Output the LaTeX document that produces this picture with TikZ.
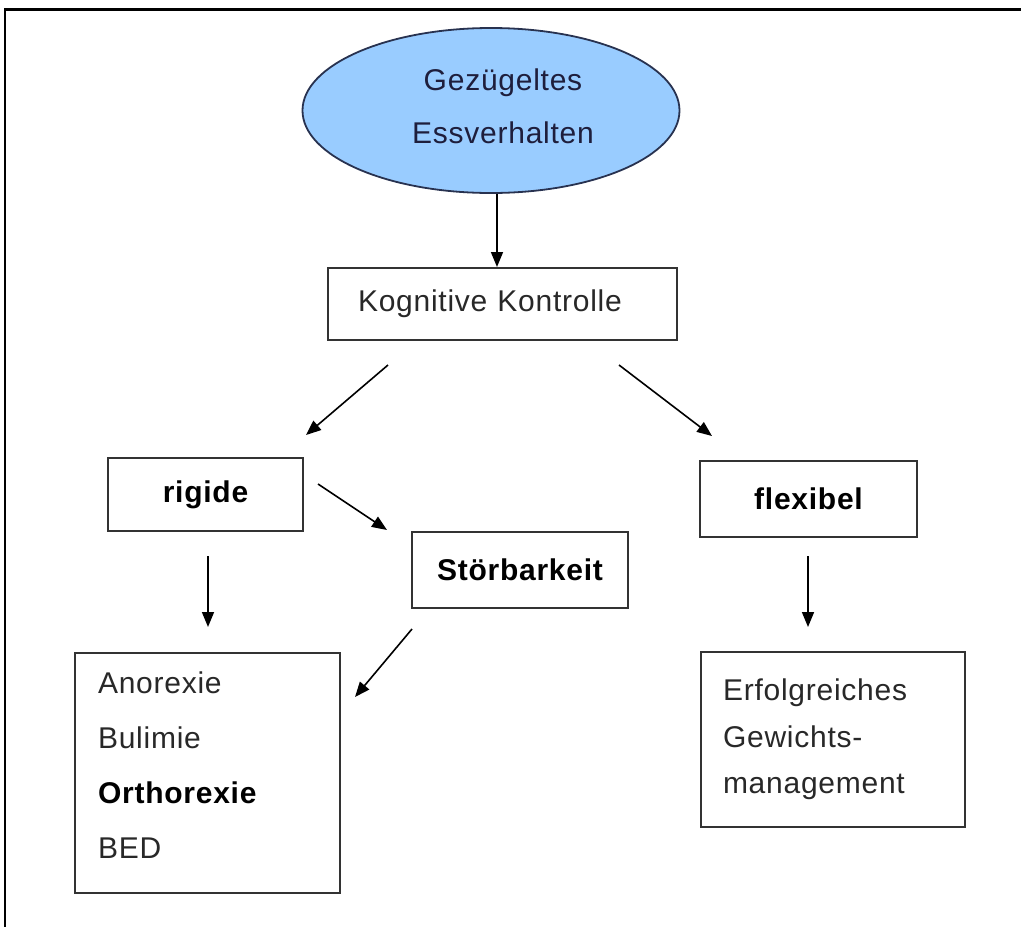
\documentclass[tikz,border=0pt]{standalone}
\usepackage{fontspec}
\setmainfont[LetterSpace=2.5]{Liberation Sans}
\usetikzlibrary{shapes.geometric,arrows.meta,calc}
\definecolor{ellfill}{RGB}{153,204,255}
\definecolor{elldraw}{RGB}{40,50,80}
\definecolor{elltext}{RGB}{30,30,60}
\definecolor{txtgray}{RGB}{40,40,40}
\begin{document}
\begin{tikzpicture}[x=1pt,y=-1pt,
  font=\fontsize{30}{46}\selectfont,
  box/.style={draw=black!80, line width=2pt, rectangle, inner sep=0pt, text=txtgray},
  boldbox/.style={box, font=\fontsize{30}{46}\selectfont\bfseries, text=black},
  arr/.style={line width=1.6pt, black, -{Triangle[length=15pt,width=12pt]}}]
\useasboundingbox (0,0) rectangle (1021,927);
% frame
\draw[line width=3pt] (4,9) -- (1021,9);
\draw[line width=2pt] (5,8) -- (5,927);
% nodes
\node[ellipse, draw=elldraw, line width=1.8pt, fill=ellfill,
      minimum width=377, minimum height=165, inner sep=0pt] (eh) at (491,110.5) {};
\node[align=center, text=elltext, font=\fontsize{30}{53}\selectfont, inner sep=0pt]
      (eht) at (503,106.5) {Gezügeltes\\Essverhalten};
\node[box, minimum width=349, minimum height=72, text width=289, inner xsep=30pt, align=left]
      (kk) at (502.5,304) {Kognitive Kontrolle};
\node[boldbox, minimum width=195, minimum height=73] (rg) at (205.5,494.5) {rigide};
\node[boldbox, minimum width=216, minimum height=76] (st) at (520,570) {Störbarkeit};
\node[boldbox, minimum width=217, minimum height=76] (fx) at (808.5,499) {flexibel};
\node[box, minimum width=265, minimum height=240, text width=219, inner xsep=23pt,
      align=left, font=\fontsize{30}{55}\selectfont]
      (an) at (207.5,773) {Anorexie\\Bulimie\\\textbf{\color{black}Orthorexie}\\BED\rule[-16pt]{0pt}{16pt}};
\node[box, minimum width=264, minimum height=175, text width=220, inner xsep=22pt,
      align=left, font=\fontsize{30}{46.5}\selectfont]
      (ef) at (833,739.5) {Erfolgreiches\\Gewichts-\\management};
% connectors
\draw[arr] ($(eh.south)+(6,0)$) -- ($(kk.north)+(-5.5,0)$);
\draw[arr] ($(kk.south west)+(61,24)$) -- ($(rg.north east)+(2,-22)$);
\draw[arr] ($(kk.south east)+(-59,24)$) -- ($(fx.north west)+(13,-24)$);
\draw[arr] ($(rg.east)+(14,-10.5)$) -- ($(st.north west)+(-24,-1)$);
\draw[arr] ($(st.south west)+(1,20)$) -- ($(an.north east)+(14,45)$);
\draw[arr] ($(rg.south)+(2.5,24)$) -- ($(an.north)+(0.5,-25)$);
\draw[arr] ($(fx.south)+(-0.5,18)$) -- ($(ef.north)+(-25,-24)$);
\end{tikzpicture}
\end{document}
